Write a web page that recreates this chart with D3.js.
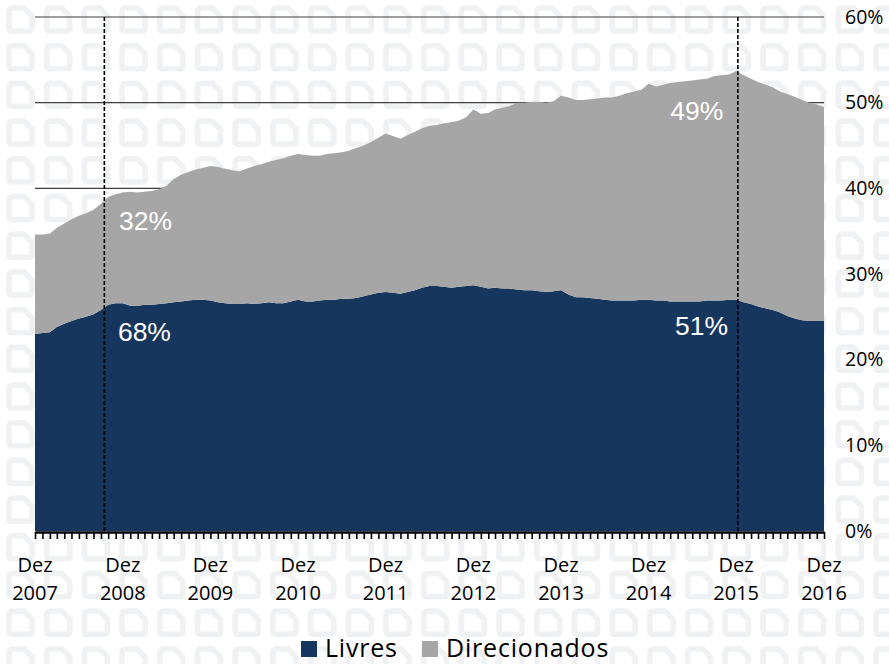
<!DOCTYPE html>
<html>
<head>
<meta charset="utf-8">
<script src="https://cdn.jsdelivr.net/npm/d3@7"></script>
<style>
  html, body { margin: 0; padding: 0; background: #fff; }
  svg { display: block; }
</style>
</head>
<body>
<svg id="chart" width="889" height="664"></svg>
<script>
// ---- data (% do PIB, mensal, Dez 2007 .. Dez 2016) ----
const startMonth = new Date(2007, 11, 1);
const endMonth   = new Date(2016, 11, 1);

const livres = [
  23.0, 23.1, 23.2, 23.8, 24.2, 24.5, 24.8, 25.0, 25.3, 25.8, 26.4, 26.6,
  26.6, 26.3, 26.3, 26.4, 26.4, 26.5, 26.6, 26.7, 26.8, 26.9, 27.0, 27.0,
  26.9, 26.7, 26.6, 26.5, 26.5, 26.6, 26.5, 26.6, 26.7, 26.6, 26.6, 26.8,
  27.0, 26.8, 26.8, 26.9, 27.0, 27.0, 27.1, 27.1, 27.2, 27.4, 27.6, 27.8,
  27.9, 27.8, 27.7, 27.9, 28.1, 28.4, 28.6, 28.6, 28.5, 28.4, 28.5, 28.6,
  28.7, 28.5, 28.3, 28.4, 28.3, 28.3, 28.2, 28.1, 28.1, 28.0, 27.9, 28.0,
  28.1, 27.6, 27.3, 27.3, 27.2, 27.1, 27.0, 26.9, 26.9, 26.9, 26.9, 27.0,
  27.0, 26.9, 26.9, 26.8, 26.8, 26.8, 26.8, 26.8, 26.9, 26.9, 26.9, 27.0,
  27.0, 26.7, 26.5, 26.2, 26.0, 25.8, 25.5, 25.1, 24.8, 24.6, 24.5, 24.5,
  24.5
];

const direcionados = [
  11.6, 11.5, 11.5, 11.6, 11.7, 11.9, 12.0, 12.1, 12.2, 12.4, 12.6, 12.7,
  12.9, 13.3, 13.2, 13.2, 13.3, 13.4, 13.7, 14.4, 14.8, 15.0, 15.2, 15.4,
  15.7, 15.8, 15.7, 15.6, 15.5, 15.7, 16.1, 16.2, 16.4, 16.7, 16.9, 17.0,
  17.0, 17.1, 17.0, 16.9, 17.0, 17.1, 17.1, 17.3, 17.5, 17.6, 17.8, 18.1,
  18.5, 18.3, 18.1, 18.3, 18.5, 18.6, 18.7, 18.8, 19.1, 19.3, 19.4, 19.7,
  20.5, 20.2, 20.5, 20.8, 21.1, 21.3, 21.8, 21.9, 22.0, 22.1, 22.1, 22.2,
  22.7, 23.0, 23.0, 23.0, 23.2, 23.4, 23.6, 23.7, 23.9, 24.2, 24.4, 24.5,
  25.2, 25.0, 25.2, 25.5, 25.6, 25.7, 25.8, 25.9, 25.9, 26.2, 26.3, 26.3,
  26.7, 26.5, 26.3, 26.2, 26.1, 26.0, 25.8, 25.9, 25.9, 25.7, 25.5, 25.3,
  25.0
];

const seriesNames  = ["Livres", "Direcionados"];
const seriesColors = ["#17365d", "#a6a6a6"];
const yTicks       = [0, 10, 20, 30, 40, 50, 60];
const yearLabels   = [2007, 2008, 2009, 2010, 2011, 2012, 2013, 2014, 2015, 2016];

// marcos verticais (tracejados)
const markerDates = [new Date(2008, 8, 15), new Date(2015, 11, 8)];

// participação de cada tipo de crédito nos dois marcos
const annotations = [
  { date: new Date(2009, 2, 6),  value: 35.1, text: "32%" },
  { date: new Date(2009, 2, 1),  value: 22.2, text: "68%" },
  { date: new Date(2015, 5, 20), value: 48.0, text: "49%" },
  { date: new Date(2015, 6, 10), value: 22.9, text: "51%" }
];

// ---- build rows ----
const months = d3.timeMonth.range(startMonth, d3.timeMonth.offset(endMonth, 1));
const rows = months.map((d, i) => ({ date: d, Livres: livres[i], Direcionados: direcionados[i] }));

const svg = d3.select("#chart");

// background watermark pattern
const defs = svg.append("defs");
const pat = defs.append("pattern")
  .attr("id", "bgPattern")
  .attr("patternUnits", "userSpaceOnUse")
  .attr("x", 5).attr("y", 4)
  .attr("width", 37.7).attr("height", 37.7);
pat.append("path")
  .attr("d", "M4,8 Q4,4 8,4 L19,4 L27,12 L27,24 Q27,27 24,27 L7,27 Q4,27 4,24 Z")
  .attr("fill", "none")
  .attr("stroke", "#f0f1f3")
  .attr("stroke-width", 5.5)
  .attr("stroke-linejoin", "round");

svg.append("rect")
  .attr("width", 889).attr("height", 664)
  .attr("fill", "url(#bgPattern)");

// ---- scales ----
const x = d3.scaleTime().domain([startMonth, endMonth]).range([35, 824]);
const y = d3.scaleLinear().domain([0, 60]).range([531, 17]);

// gridlines
svg.append("g")
  .selectAll("line")
  .data(yTicks.filter(t => t > 0))
  .join("line")
  .attr("x1", x.range()[0]).attr("x2", x.range()[1])
  .attr("y1", d => y(d)).attr("y2", d => y(d))
  .attr("stroke", "#3f3f3f")
  .attr("stroke-width", 1.2);

// stacked areas
const stack = d3.stack().keys(seriesNames);
const layers = stack(rows);

const area = d3.area()
  .x(d => x(d.data.date))
  .y0(d => y(d[0]))
  .y1(d => y(d[1]));

svg.append("g")
  .selectAll("path")
  .data(layers)
  .join("path")
  .attr("fill", (d, i) => seriesColors[i])
  .attr("d", area);

// dashed markers
svg.append("g")
  .selectAll("line")
  .data(markerDates)
  .join("line")
  .attr("x1", d => x(d)).attr("x2", d => x(d))
  .attr("y1", y(60)).attr("y2", y(0))
  .attr("stroke", "#000")
  .attr("stroke-width", 1.6)
  .attr("stroke-dasharray", "4,2");

// annotations
svg.append("g")
  .selectAll("text")
  .data(annotations)
  .join("text")
  .attr("x", d => x(d.date))
  .attr("y", d => y(d.value))
  .attr("text-anchor", "middle")
  .attr("fill", "#fff")
  .style("font-family", "'Liberation Sans', Arial, sans-serif")
  .style("font-size", "26.5px")
  .text(d => d.text);

// x axis: monthly ticks, no labels
const xAxis = d3.axisBottom(x)
  .tickValues(months)
  .tickSize(7)
  .tickSizeOuter(0)
  .tickFormat("");

const gx = svg.append("g")
  .attr("transform", "translate(0,532)")
  .call(xAxis);
gx.select(".domain").attr("stroke", "#000").attr("stroke-width", 2.5);
gx.selectAll(".tick line").attr("stroke", "#000").attr("stroke-width", 1.6);

// year labels "Dez / yyyy"
const yearTicks = svg.append("g")
  .selectAll("text")
  .data(yearLabels)
  .join("text")
  .attr("text-anchor", "middle")
  .attr("fill", "#000")
  .style("font-family", "'Open Sans', sans-serif")
  .style("font-size", "20px");
yearTicks.append("tspan")
  .attr("x", d => x(new Date(d, 11, 1)))
  .attr("y", 572)
  .text("Dez");
yearTicks.append("tspan")
  .attr("x", d => x(new Date(d, 11, 1)))
  .attr("y", 600)
  .text(d => d);

// y axis labels on the right
const yAxis = d3.axisRight(y)
  .tickValues(yTicks)
  .tickSize(0)
  .tickPadding(0)
  .tickFormat(d => d + "%");

const gy = svg.append("g")
  .attr("transform", "translate(845,0)")
  .call(yAxis);
gy.select(".domain").remove();
gy.selectAll("text")
  .attr("fill", "#000")
  .style("font-family", "'Open Sans', sans-serif")
  .style("font-size", "19.5px");

// legend
const legendItems = [
  { name: seriesNames[0], color: seriesColors[0], x: 301 },
  { name: seriesNames[1], color: seriesColors[1], x: 422 }
];
const legend = svg.append("g");
legend.selectAll("rect")
  .data(legendItems)
  .join("rect")
  .attr("x", d => d.x).attr("y", 641)
  .attr("width", 16).attr("height", 16)
  .attr("fill", d => d.color);
legend.selectAll("text")
  .data(legendItems)
  .join("text")
  .attr("x", d => d.x + 24)
  .attr("y", 657)
  .attr("fill", "#000")
  .style("font-family", "'Open Sans', sans-serif")
  .style("font-size", "25px")
  .style("letter-spacing", "0.8px")
  .text(d => d.name);
</script>
</body>
</html>
